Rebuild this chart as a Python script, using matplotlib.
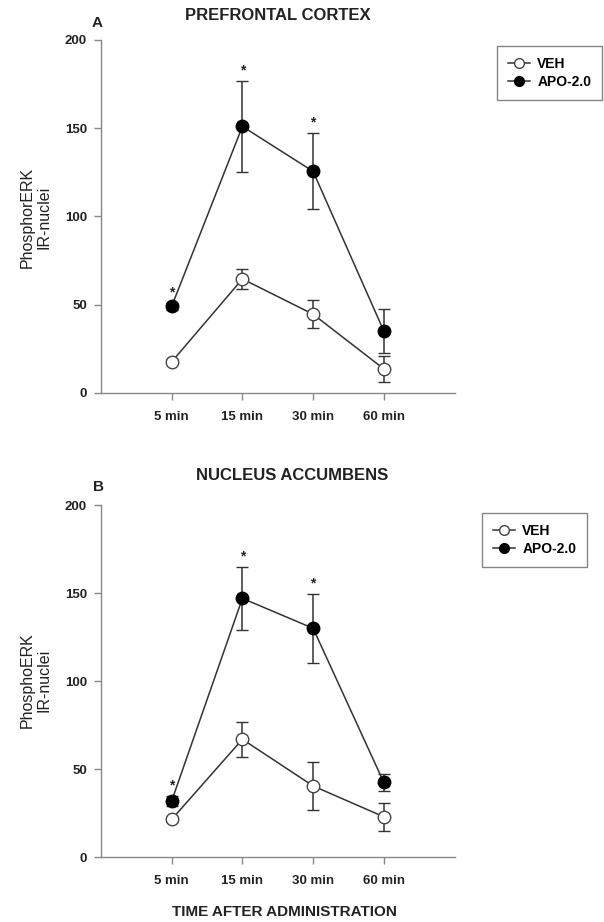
import matplotlib
matplotlib.use("Agg")
import matplotlib.pyplot as plt
from matplotlib.lines import Line2D
import numpy as np

plt.rcParams['font.family'] = ['Liberation Sans', 'DejaVu Sans']

categories = ["5 min", "15 min", "30 min", "60 min"]

# Panel A: prefrontal cortex
a_veh = [17.5, 64.5, 44.5, 13.5]
a_veh_err = [1.5, 5.5, 8.0, 7.5]
a_apo = [49, 151, 125.5, 35]
a_apo_err = [2.0, 26, 21.5, 12.5]
a_star = [True, True, True, False]

# Panel B: nucleus accumbens
b_veh = [21.5, 67, 40.5, 23]
b_veh_err = [1.5, 10, 13.5, 8]
b_apo = [32, 147, 130, 42.5]
b_apo_err = [3, 18, 19.5, 5]
b_star = [True, True, True, False]

fig = plt.figure(figsize=(6.04, 9.22), dpi=100)
W, H = 604, 922
TXT = '#222222'

def fx(px):
    return px / W

def fy(py):
    return 1 - py / H

def make_ax(top_px, bot_px):
    return fig.add_axes([101 / W, 1 - bot_px / H, (454.5 - 101) / W, (bot_px - top_px) / H])

def draw(ax, veh, veh_err, apo, apo_err, stars):
    x = np.arange(1, len(categories) + 1)
    lc = '#333333'
    ax.errorbar(x, veh, yerr=veh_err, color=lc, lw=1.1, marker='o', ms=9,
                mfc='white', mec='#444444', mew=1.0, capsize=4, capthick=1.1,
                elinewidth=1.1, zorder=3)
    ax.errorbar(x, apo, yerr=apo_err, color=lc, lw=1.1, marker='o', ms=9,
                mfc='black', mec='black', mew=1.0, capsize=4, capthick=1.1,
                elinewidth=1.1, zorder=4)
    for xi, yi, ei, s in zip(x, apo, apo_err, stars):
        if s:
            ax.text(xi, yi + ei + 6, '*', ha='center', va='center',
                    fontsize=10, fontweight='bold', color=TXT)
    ax.set_xlim(0, 5)
    ax.set_ylim(0, 200)
    ax.set_xticks(x)
    ax.set_xticklabels(categories)
    ax.set_yticks([0, 50, 100, 150, 200])
    for sp in ['top', 'right']:
        ax.spines[sp].set_visible(False)
    for sp in ['left', 'bottom']:
        ax.spines[sp].set_color('#888888')
        ax.spines[sp].set_linewidth(1.0)
    ax.tick_params(axis='both', colors='#888888', length=5, width=1.0,
                   labelcolor=TXT, labelsize=9.5)
    ax.tick_params(axis='x', pad=8)
    ax.tick_params(axis='y', pad=5)
    for lab in ax.get_xticklabels() + ax.get_yticklabels():
        lab.set_fontweight('bold')

def legend(ax, x0, y0):
    handles = [
        Line2D([], [], color='#333333', lw=1.1, marker='o', ms=7,
               mfc='white', mec='#444444', mew=1.0),
        Line2D([], [], color='#333333', lw=1.1, marker='o', ms=7,
               mfc='black', mec='black', mew=1.0),
    ]
    leg = ax.legend(handles, ['VEH', 'APO-2.0'], loc='upper left',
                    bbox_to_anchor=(fx(x0), fy(y0)),
                    bbox_transform=fig.transFigure,
                    frameon=True, fancybox=False,
                    prop={'weight': 'bold', 'size': 10}, handlelength=1.6,
                    borderpad=0.8, edgecolor='#666666', labelspacing=0.25,
                    handletextpad=0.5, borderaxespad=0)
    leg.get_frame().set_linewidth(1.0)
    return leg

axA = make_ax(40, 392.7)
draw(axA, a_veh, a_veh_err, a_apo, a_apo_err, a_star)
legend(axA, 497, 46)

axB = make_ax(505, 857.3)
draw(axB, b_veh, b_veh_err, b_apo, b_apo_err, b_star)
legend(axB, 482, 513)

fig.text(fx(278), fy(15), "PREFRONTAL CORTEX", fontsize=12, fontweight='bold',
         color=TXT, ha='center', va='center')
fig.text(fx(292), fy(475), "NUCLEUS ACCUMBENS", fontsize=12, fontweight='bold',
         color=TXT, ha='center', va='center')
fig.text(fx(97), fy(23), "A", fontsize=11, fontweight='bold', color=TXT,
         ha='center', va='center')
fig.text(fx(98), fy(487), "B", fontsize=11, fontweight='bold', color=TXT,
         ha='center', va='center')
fig.text(fx(36), fy(217), "PhosphorERK\nIR-nuclei", fontsize=11.5, color=TXT,
         rotation=90, ha='center', va='center', linespacing=1.15)
fig.text(fx(36), fy(680), "PhosphoERK\nIR-nuclei", fontsize=11.5, color=TXT,
         rotation=90, ha='center', va='center', linespacing=1.15)
fig.text(fx(284), fy(912), "TIME AFTER ADMINISTRATION", fontsize=11,
         fontweight='bold', color=TXT, ha='center', va='center')

fig.savefig("out.png", dpi=100)
